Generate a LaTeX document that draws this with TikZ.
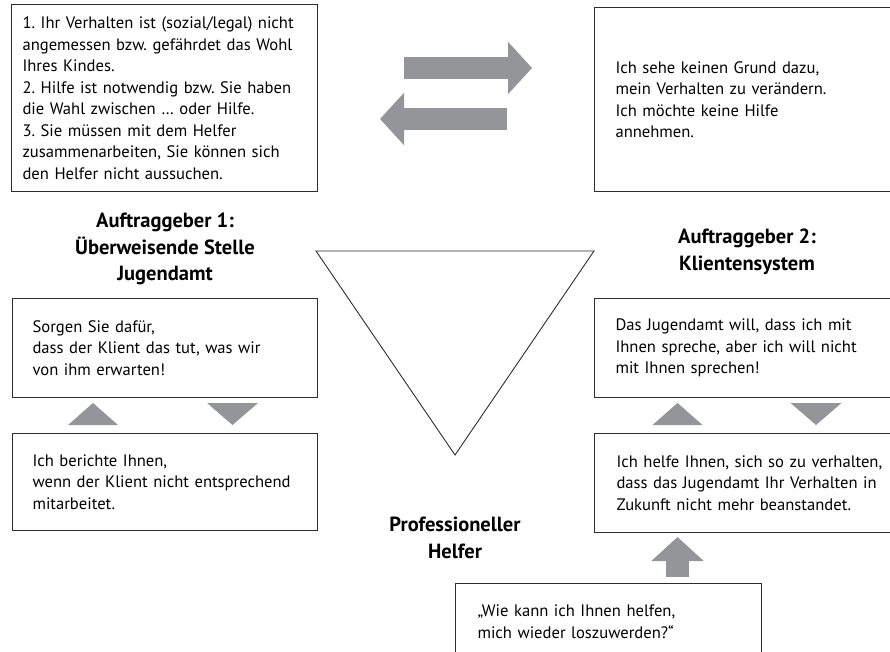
\documentclass[tikz,border=0pt]{standalone}
\usepackage{fontspec}
\setmainfont{PT Sans}
\usetikzlibrary{arrows.meta}
\frenchspacing
\definecolor{pfeilgrau}{RGB}{147,149,152}
\definecolor{rahmen}{RGB}{45,45,45}
\tikzset{
  kasten/.style={draw=rahmen, line width=1.1pt, anchor=north west, align=left,
    inner ysep=0pt, font=\fontsize{16.6pt}{21.5pt}\selectfont},
  titel/.style={align=center, font=\bfseries\fontsize{20.5pt}{26.5pt}\selectfont},
  dickpfeil/.style={draw=pfeilgrau, line width=22.5pt,
    -{Triangle[length=24pt,width=51pt]}},
  hoch/.pic={\fill[pfeilgrau] (-25,11) -- (0,-11) -- (25,11) -- cycle;},
  runter/.pic={\fill[pfeilgrau] (-25.5,-11) -- (0,11) -- (25.5,-11) -- cycle;}
}
\begin{document}
\begin{tikzpicture}[x=1pt,y=-1pt]
\useasboundingbox (0,0) rectangle (890,652);
\clip (0,0) rectangle (890,652);

\node[kasten, text width=284pt, inner xsep=11pt, minimum height=187pt] (auftrag) at (11,4)
  {1. Ihr Verhalten ist (sozial/legal) nicht\\ angemessen bzw. gefährdet das Wohl\\ Ihres Kindes.\\
   2. Hilfe ist notwendig bzw. Sie haben\\ die Wahl zwischen … oder Hilfe.\\
   3. Sie müssen mit dem Helfer\\ zusammenarbeiten, Sie können sich\\ den Helfer nicht aussuchen.};
\node[kasten, text width=268pt, inner xsep=21pt, minimum height=184pt] (grund) at (594,7)
  {Ich sehe keinen Grund dazu,\\ mein Verhalten zu verändern.\\ Ich möchte keine Hilfe\\ annehmen.};

\coordinate (hin1) at (404,68);
\coordinate (hin2) at (532,68);
\coordinate (zur1) at (507,119);
\coordinate (zur2) at (380,119);
\draw[dickpfeil] (hin1) -- (hin2);
\draw[dickpfeil] (zur1) -- (zur2);

\node[titel] (ag1) at (165,249) {Auftraggeber 1:\\ Überweisende Stelle\\ Jugendamt};
\node[titel] (ag2) at (747,252) {Auftraggeber 2:\\ Klientensystem};

\node[kasten, text width=265pt, inner xsep=20pt, minimum height=99pt] (sorgen) at (12,298)
  {Sorgen Sie dafür,\\ dass der Klient das tut, was wir\\ von ihm erwarten!};
\node[kasten, text width=265pt, inner xsep=20pt, minimum height=97pt] (bericht) at (12,433)
  {Ich berichte Ihnen,\\ wenn der Klient nicht entsprechend\\ mitarbeitet.};
\node[kasten, text width=268pt, inner xsep=21pt, minimum height=99pt] (sprechen) at (594,298)
  {Das Jugendamt will, dass ich mit\\ Ihnen spreche, aber ich will nicht\\ mit Ihnen sprechen!};
\node[kasten, text width=268pt, inner xsep=22pt, minimum height=99pt] (verhalten) at (594,433)
  {Ich helfe Ihnen, sich so zu verhalten,\\ dass das Jugendamt Ihr Verhalten in\\ Zukunft nicht mehr beanstandet.};
\node[kasten, text width=262pt, inner xsep=22pt, minimum height=76pt] (loswerden) at (455,583)
  {„Wie kann ich Ihnen helfen,\\ mich wieder loszuwerden?“};

\pic at (93,414) {hoch};
\pic at (232.5,414) {runter};
\pic at (677.5,414) {hoch};
\pic at (816,414) {runter};

\coordinate (los) at (677.5,577);
\coordinate (hilf) at (677.5,537);
\draw[dickpfeil] (los) -- (hilf);

\coordinate (D1) at (316,251);
\coordinate (D2) at (594,251);
\coordinate (D3) at (455,455);
\draw[rahmen, line width=0.9pt] (D1) -- (D2) -- (D3) -- cycle;

\node[titel] (helfer) at (455,538) {Professioneller\\ Helfer};
\end{tikzpicture}
\end{document}
